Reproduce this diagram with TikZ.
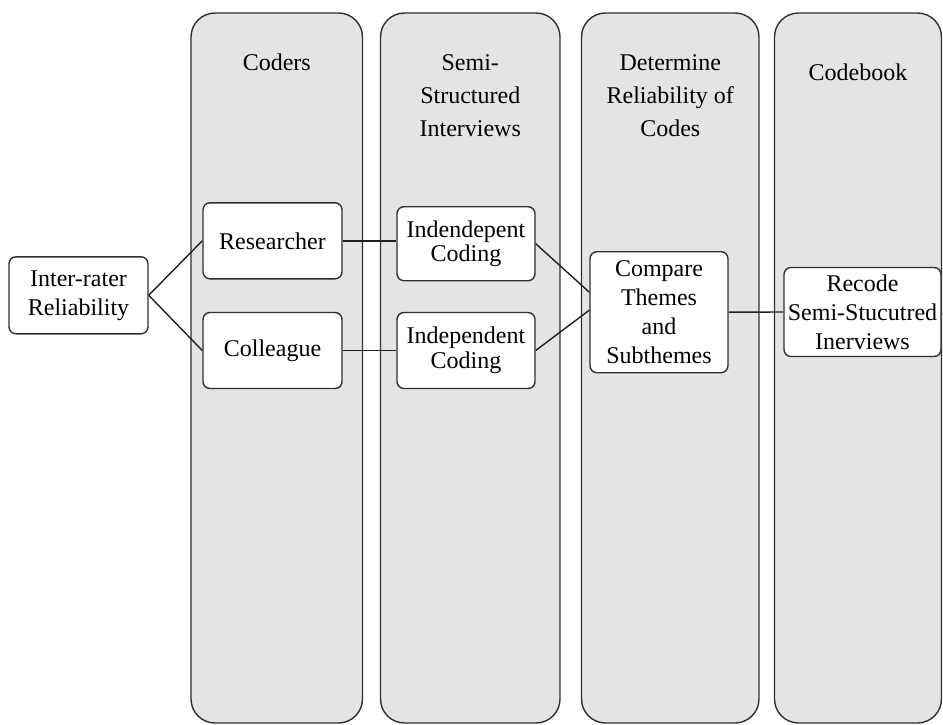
\documentclass[tikz,border=0pt]{standalone}
\usepackage{fontspec}
\setmainfont{Liberation Serif}
\definecolor{colfill}{HTML}{E4E4E4}
\definecolor{edge}{HTML}{303030}
\begin{document}
\begin{tikzpicture}[x=1pt,y=-1pt,
  colbox/.style={draw=edge,line width=1.4pt,fill=colfill,rounded corners=24pt,inner sep=0pt,minimum height=710pt},
  coltitle/.style={align=center,inner sep=0pt,font=\fontsize{24}{33}\selectfont},
  itembox/.style={draw=edge,line width=1.4pt,fill=white,rounded corners=7pt,inner sep=0pt,align=center,font=\fontsize{24}{29}\selectfont},
  tightbox/.style={itembox,font=\fontsize{24}{24.5}\selectfont},
  link/.style={draw=black!88,line width=1.4pt}]
\useasboundingbox (0,0) rectangle (943,725);
% columns
\node[colbox,minimum width=171.5pt] (c1) at (276.75,368) {};
\node[colbox,minimum width=179.5pt] (c2) at (470.25,368) {};
\node[colbox,minimum width=177.5pt] (c3) at (670.25,368) {};
\node[colbox,minimum width=167pt] (c4) at (858,368) {};
% column titles
\node[coltitle] (t1) at (276.75,62) {Coders};
\node[coltitle] (t2) at (470.25,96) {Semi-\\Structured\\Interviews};
\node[coltitle] (t3) at (670.25,96) {Determine\\Reliability of\\Codes};
\node[coltitle] (t4) at (858,72) {Codebook};
% items
\node[itembox,minimum width=139pt,minimum height=77pt] (ir) at (78.5,295.3) {Inter-rater\\Reliability};
\node[itembox,minimum width=139pt,minimum height=76pt] (res) at (272.5,240.8) {Researcher};
\node[itembox,minimum width=139pt,minimum height=76pt] (col) at (272.5,350.5) {Colleague};
\node[tightbox,minimum width=138pt,minimum height=74pt] (ic1) at (466,243.7) {Indendepent\\Coding};
\node[tightbox,minimum width=138pt,minimum height=76pt] (ic2) at (466,350.5) {Independent\\Coding};
\node[itembox,minimum width=138pt,minimum height=121pt] (cmp) at (659,312.2) {Compare\\Themes\\and\\Subthemes};
\node[itembox,minimum width=157pt,minimum height=89pt] (rec) at (862.5,312) {Recode\\Semi-Stucutred\\Inerviews};
% connectors
\draw[link] (ir.east) -- (res.west);
\draw[link] (ir.east) -- (col.west);
\draw[link] (res.east) -- (res.east -| ic1.west);
\draw[link] (col.east) -- (ic2.west);
\draw[link] (ic1.east) -- ([yshift=20pt]cmp.west);
\draw[link] (ic2.east) -- ([yshift=2pt]cmp.west);
\draw[link] (cmp.east) -- (rec.west);
\end{tikzpicture}
\end{document}
